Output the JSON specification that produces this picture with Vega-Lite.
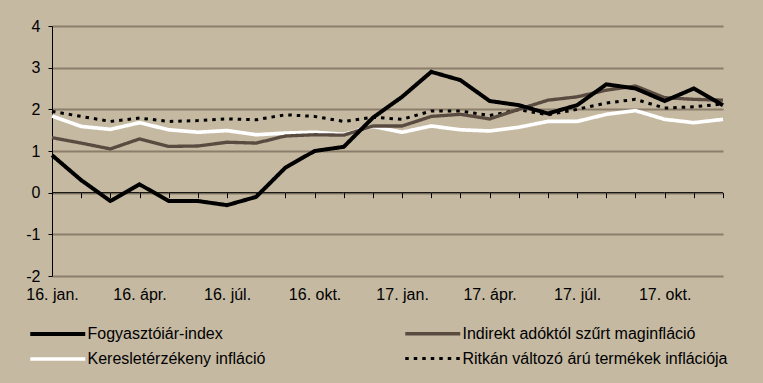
{
  "$schema": "https://vega.github.io/schema/vega-lite/v6.json",
  "width": 671,
  "height": 250,
  "autosize": {"type": "none"},
  "padding": {"left": 52, "top": 26, "right": 40, "bottom": 107},
  "background": "#c5b9a2",
  "config": {
    "view": {"stroke": null},
    "font": "Liberation Sans",
    "axis": {"labelColor": "#000000", "labelFont": "Liberation Sans"}
  },
  "data": {
    "values": [
      {"month": "2016-01", "series": "Ritkán változó árú termékek inflációja", "value": 1.95},
      {"month": "2016-02", "series": "Ritkán változó árú termékek inflációja", "value": 1.83},
      {"month": "2016-03", "series": "Ritkán változó árú termékek inflációja", "value": 1.71},
      {"month": "2016-04", "series": "Ritkán változó árú termékek inflációja", "value": 1.79},
      {"month": "2016-05", "series": "Ritkán változó árú termékek inflációja", "value": 1.71},
      {"month": "2016-06", "series": "Ritkán változó árú termékek inflációja", "value": 1.73},
      {"month": "2016-07", "series": "Ritkán változó árú termékek inflációja", "value": 1.77},
      {"month": "2016-08", "series": "Ritkán változó árú termékek inflációja", "value": 1.75},
      {"month": "2016-09", "series": "Ritkán változó árú termékek inflációja", "value": 1.87},
      {"month": "2016-10", "series": "Ritkán változó árú termékek inflációja", "value": 1.83},
      {"month": "2016-11", "series": "Ritkán változó árú termékek inflációja", "value": 1.71},
      {"month": "2016-12", "series": "Ritkán változó árú termékek inflációja", "value": 1.81},
      {"month": "2017-01", "series": "Ritkán változó árú termékek inflációja", "value": 1.76},
      {"month": "2017-02", "series": "Ritkán változó árú termékek inflációja", "value": 1.96},
      {"month": "2017-03", "series": "Ritkán változó árú termékek inflációja", "value": 1.96},
      {"month": "2017-04", "series": "Ritkán változó árú termékek inflációja", "value": 1.85},
      {"month": "2017-05", "series": "Ritkán változó árú termékek inflációja", "value": 1.99},
      {"month": "2017-06", "series": "Ritkán változó árú termékek inflációja", "value": 1.87},
      {"month": "2017-07", "series": "Ritkán változó árú termékek inflációja", "value": 2.0},
      {"month": "2017-08", "series": "Ritkán változó árú termékek inflációja", "value": 2.15},
      {"month": "2017-09", "series": "Ritkán változó árú termékek inflációja", "value": 2.24},
      {"month": "2017-10", "series": "Ritkán változó árú termékek inflációja", "value": 2.03},
      {"month": "2017-11", "series": "Ritkán változó árú termékek inflációja", "value": 2.06},
      {"month": "2017-12", "series": "Ritkán változó árú termékek inflációja", "value": 2.13},
      {"month": "2016-01", "series": "Keresletérzékeny infláció", "value": 1.84},
      {"month": "2016-02", "series": "Keresletérzékeny infláció", "value": 1.59},
      {"month": "2016-03", "series": "Keresletérzékeny infláció", "value": 1.52},
      {"month": "2016-04", "series": "Keresletérzékeny infláció", "value": 1.68},
      {"month": "2016-05", "series": "Keresletérzékeny infláció", "value": 1.51},
      {"month": "2016-06", "series": "Keresletérzékeny infláció", "value": 1.45},
      {"month": "2016-07", "series": "Keresletérzékeny infláció", "value": 1.49},
      {"month": "2016-08", "series": "Keresletérzékeny infláció", "value": 1.39},
      {"month": "2016-09", "series": "Keresletérzékeny infláció", "value": 1.43},
      {"month": "2016-10", "series": "Keresletérzékeny infláció", "value": 1.45},
      {"month": "2016-11", "series": "Keresletérzékeny infláció", "value": 1.40},
      {"month": "2016-12", "series": "Keresletérzékeny infláció", "value": 1.59},
      {"month": "2017-01", "series": "Keresletérzékeny infláció", "value": 1.45},
      {"month": "2017-02", "series": "Keresletérzékeny infláció", "value": 1.60},
      {"month": "2017-03", "series": "Keresletérzékeny infláció", "value": 1.51},
      {"month": "2017-04", "series": "Keresletérzékeny infláció", "value": 1.48},
      {"month": "2017-05", "series": "Keresletérzékeny infláció", "value": 1.57},
      {"month": "2017-06", "series": "Keresletérzékeny infláció", "value": 1.71},
      {"month": "2017-07", "series": "Keresletérzékeny infláció", "value": 1.71},
      {"month": "2017-08", "series": "Keresletérzékeny infláció", "value": 1.88},
      {"month": "2017-09", "series": "Keresletérzékeny infláció", "value": 1.97},
      {"month": "2017-10", "series": "Keresletérzékeny infláció", "value": 1.76},
      {"month": "2017-11", "series": "Keresletérzékeny infláció", "value": 1.68},
      {"month": "2017-12", "series": "Keresletérzékeny infláció", "value": 1.76},
      {"month": "2016-01", "series": "Indirekt adóktól szűrt maginfláció", "value": 1.32},
      {"month": "2016-02", "series": "Indirekt adóktól szűrt maginfláció", "value": 1.19},
      {"month": "2016-03", "series": "Indirekt adóktól szűrt maginfláció", "value": 1.05},
      {"month": "2016-04", "series": "Indirekt adóktól szűrt maginfláció", "value": 1.29},
      {"month": "2016-05", "series": "Indirekt adóktól szűrt maginfláció", "value": 1.11},
      {"month": "2016-06", "series": "Indirekt adóktól szűrt maginfláció", "value": 1.12},
      {"month": "2016-07", "series": "Indirekt adóktól szűrt maginfláció", "value": 1.21},
      {"month": "2016-08", "series": "Indirekt adóktól szűrt maginfláció", "value": 1.19},
      {"month": "2016-09", "series": "Indirekt adóktól szűrt maginfláció", "value": 1.36},
      {"month": "2016-10", "series": "Indirekt adóktól szűrt maginfláció", "value": 1.39},
      {"month": "2016-11", "series": "Indirekt adóktól szűrt maginfláció", "value": 1.38},
      {"month": "2016-12", "series": "Indirekt adóktól szűrt maginfláció", "value": 1.60},
      {"month": "2017-01", "series": "Indirekt adóktól szűrt maginfláció", "value": 1.60},
      {"month": "2017-02", "series": "Indirekt adóktól szűrt maginfláció", "value": 1.83},
      {"month": "2017-03", "series": "Indirekt adóktól szűrt maginfláció", "value": 1.88},
      {"month": "2017-04", "series": "Indirekt adóktól szűrt maginfláció", "value": 1.77},
      {"month": "2017-05", "series": "Indirekt adóktól szűrt maginfláció", "value": 2.0},
      {"month": "2017-06", "series": "Indirekt adóktól szűrt maginfláció", "value": 2.22},
      {"month": "2017-07", "series": "Indirekt adóktól szűrt maginfláció", "value": 2.30},
      {"month": "2017-08", "series": "Indirekt adóktól szűrt maginfláció", "value": 2.46},
      {"month": "2017-09", "series": "Indirekt adóktól szűrt maginfláció", "value": 2.56},
      {"month": "2017-10", "series": "Indirekt adóktól szűrt maginfláció", "value": 2.28},
      {"month": "2017-11", "series": "Indirekt adóktól szűrt maginfláció", "value": 2.24},
      {"month": "2017-12", "series": "Indirekt adóktól szűrt maginfláció", "value": 2.22},
      {"month": "2016-01", "series": "Fogyasztóiár-index", "value": 0.9},
      {"month": "2016-02", "series": "Fogyasztóiár-index", "value": 0.3},
      {"month": "2016-03", "series": "Fogyasztóiár-index", "value": -0.2},
      {"month": "2016-04", "series": "Fogyasztóiár-index", "value": 0.2},
      {"month": "2016-05", "series": "Fogyasztóiár-index", "value": -0.2},
      {"month": "2016-06", "series": "Fogyasztóiár-index", "value": -0.2},
      {"month": "2016-07", "series": "Fogyasztóiár-index", "value": -0.3},
      {"month": "2016-08", "series": "Fogyasztóiár-index", "value": -0.1},
      {"month": "2016-09", "series": "Fogyasztóiár-index", "value": 0.6},
      {"month": "2016-10", "series": "Fogyasztóiár-index", "value": 1.0},
      {"month": "2016-11", "series": "Fogyasztóiár-index", "value": 1.1},
      {"month": "2016-12", "series": "Fogyasztóiár-index", "value": 1.8},
      {"month": "2017-01", "series": "Fogyasztóiár-index", "value": 2.3},
      {"month": "2017-02", "series": "Fogyasztóiár-index", "value": 2.9},
      {"month": "2017-03", "series": "Fogyasztóiár-index", "value": 2.7},
      {"month": "2017-04", "series": "Fogyasztóiár-index", "value": 2.2},
      {"month": "2017-05", "series": "Fogyasztóiár-index", "value": 2.1},
      {"month": "2017-06", "series": "Fogyasztóiár-index", "value": 1.9},
      {"month": "2017-07", "series": "Fogyasztóiár-index", "value": 2.1},
      {"month": "2017-08", "series": "Fogyasztóiár-index", "value": 2.6},
      {"month": "2017-09", "series": "Fogyasztóiár-index", "value": 2.5},
      {"month": "2017-10", "series": "Fogyasztóiár-index", "value": 2.2},
      {"month": "2017-11", "series": "Fogyasztóiár-index", "value": 2.5},
      {"month": "2017-12", "series": "Fogyasztóiár-index", "value": 2.1}
    ]
  },
  "resolve": {"axis": {"x": "independent"}},
  "layer": [
    {
      "transform": [{"filter": "datum.series == 'Fogyasztóiár-index'"}],
      "mark": {"type": "line", "color": "#000000", "strokeWidth": 1},
      "encoding": {
        "x": {
          "field": "month", "type": "ordinal",
          "scale": {"type": "point", "padding": 0},
          "axis": {
            "orient": "bottom", "title": null, "domain": false, "ticks": false, "grid": false,
            "labelAngle": 0, "labelFontSize": 16, "labelPadding": 10, "labelOverlap": false,
            "labelExpr": "slice(datum.value,5)=='01' ? slice(datum.value,2,4)+'. jan.' : slice(datum.value,5)=='04' ? slice(datum.value,2,4)+'. ápr.' : slice(datum.value,5)=='07' ? slice(datum.value,2,4)+'. júl.' : slice(datum.value,5)=='10' ? slice(datum.value,2,4)+'. okt.' : ''"
          }
        },
        "y": {"datum": 0, "type": "quantitative"}
      }
    },
    {
      "mark": {"type": "line", "strokeJoin": "miter"},
      "encoding": {
        "x": {
          "field": "month", "type": "ordinal",
          "scale": {"type": "point", "padding": 0},
          "axis": {
            "orient": "bottom", "title": null, "offset": -83.33, "domain": false, "labels": false,
            "ticks": true, "tickSize": 5, "tickColor": "#000000", "tickWidth": 1, "grid": false
          }
        },
        "y": {
          "field": "value", "type": "quantitative",
          "scale": {"domain": [-2, 4], "nice": false, "zero": false},
          "axis": {
            "title": null, "values": [-2, -1, 0, 1, 2, 3, 4], "labelExpr": "'' + datum.value",
            "domainColor": "#000000", "domainWidth": 1,
            "tickColor": "#000000", "tickSize": 4, "labelPadding": 8, "labelFontSize": 16,
            "grid": true, "gridColor": "#8c7e6a", "gridWidth": 2
          }
        },
        "color": {
          "field": "series", "type": "nominal",
          "scale": {
            "domain": ["Fogyasztóiár-index", "Keresletérzékeny infláció", "Indirekt adóktól szűrt maginfláció", "Ritkán változó árú termékek inflációja"],
            "range": ["#000000", "#ffffff", "#5a4b41", "#000000"]
          },
          "legend": {
            "title": null, "orient": "none", "legendX": -24, "legendY": 292,
            "columns": 2, "columnPadding": 132, "rowPadding": 1,
            "symbolType": "M-1,0H3", "symbolSize": 756, "labelOffset": 27.5,
            "labelFontSize": 16, "labelColor": "#000000", "labelLimit": 400
          }
        },
        "strokeDash": {
          "field": "series", "type": "nominal",
          "scale": {
            "domain": ["Fogyasztóiár-index", "Keresletérzékeny infláció", "Indirekt adóktól szűrt maginfláció", "Ritkán változó árú termékek inflációja"],
            "range": [[1, 0], [1, 0], [1, 0], [3.5, 5]]
          }
        },
        "strokeWidth": {
          "field": "series", "type": "nominal",
          "scale": {
            "domain": ["Fogyasztóiár-index", "Keresletérzékeny infláció", "Indirekt adóktól szűrt maginfláció", "Ritkán változó árú termékek inflációja"],
            "range": [4, 3, 3, 4]
          }
        }
      }
    }
  ]
}
